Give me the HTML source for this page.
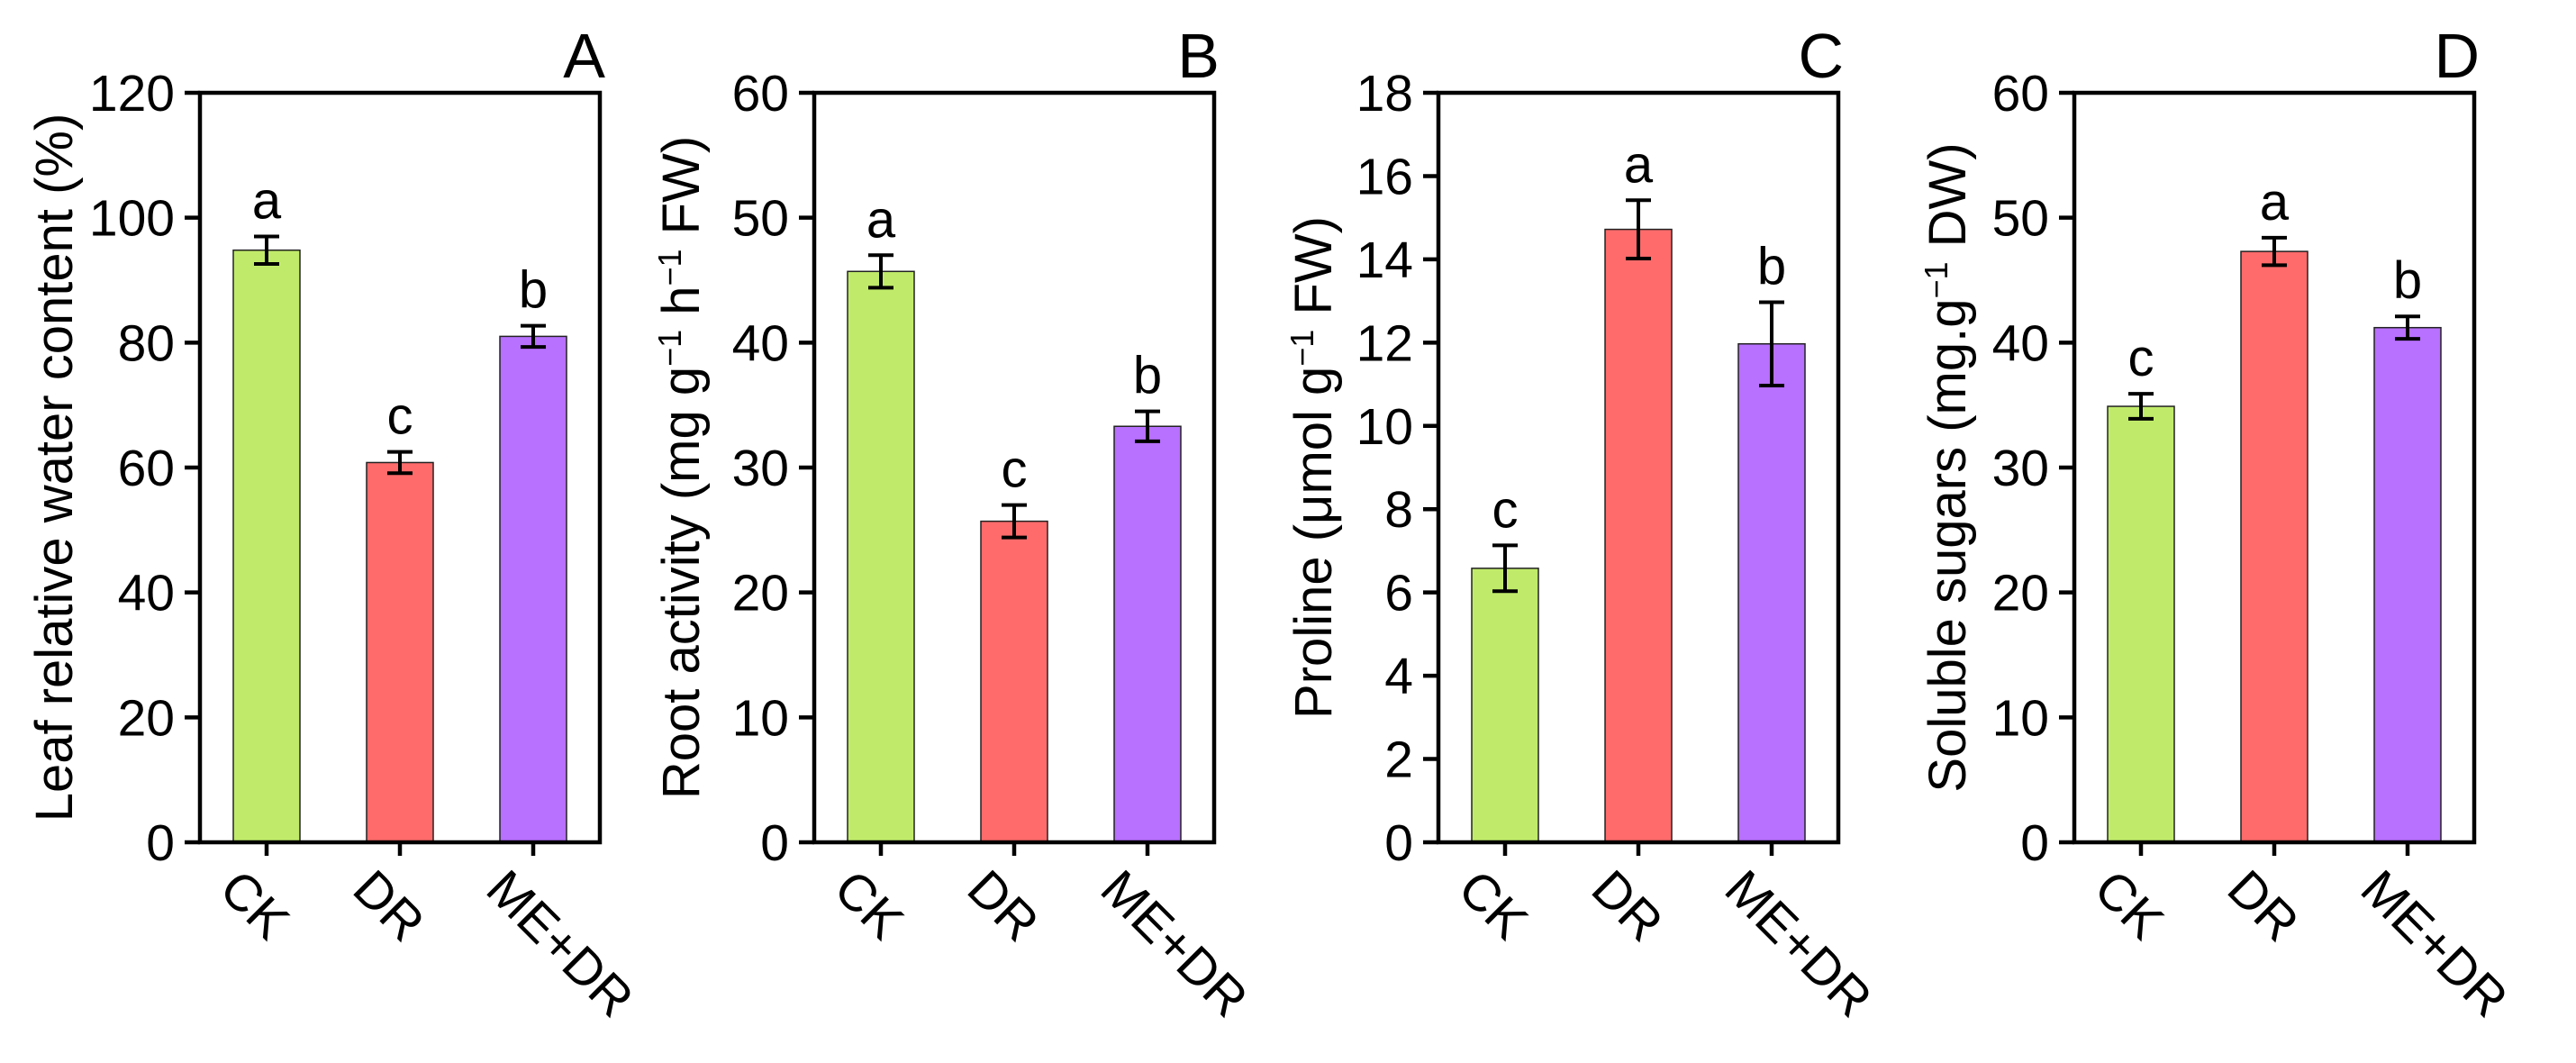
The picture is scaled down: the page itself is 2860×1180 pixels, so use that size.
<!DOCTYPE html>
<html><head><meta charset="utf-8"><style>
html,body{margin:0;padding:0;background:#fff;}
svg{display:block;font-family:"Liberation Sans",Arial,sans-serif;}
</style></head><body>
<svg id="fig" width="2860" height="1180" viewBox="0 0 2860 1180" xmlns="http://www.w3.org/2000/svg"></svg>
<script>
const categories = ["CK", "DR", "ME+DR"];
const colors = ["#C0EB6A", "#FF6B6B", "#B870FF"];
const lwcValues = [94.8, 60.8, 81.0];
const lwcErrors = [2.2, 1.7, 1.7];
const lwcLetters = ["a", "c", "b"];
const lwcTicks = [0, 20, 40, 60, 80, 100, 120];
const raValues = [45.7, 25.7, 33.3];
const raErrors = [1.3, 1.3, 1.2];
const raLetters = ["a", "c", "b"];
const raTicks = [0, 10, 20, 30, 40, 50, 60];
const proValues = [6.58, 14.72, 11.97];
const proErrors = [0.55, 0.7, 1.0];
const proLetters = ["c", "a", "b"];
const proTicks = [0, 2, 4, 6, 8, 10, 12, 14, 16, 18];
const ssValues = [34.9, 47.3, 41.2];
const ssErrors = [1.0, 1.1, 0.9];
const ssLetters = ["c", "a", "b"];
const ssTicks = [0, 10, 20, 30, 40, 50, 60];

const NS = "http://www.w3.org/2000/svg";
const svg = document.getElementById("fig");
function mk(tag, attrs, parent, text) {
  const e = document.createElementNS(NS, tag);
  for (const k in attrs) e.setAttribute(k, attrs[k]);
  if (text !== undefined) e.textContent = text;
  (parent || svg).appendChild(e);
  return e;
}

const panels = [
  {id:"a", letter:"A", left:222, max:120, values:lwcValues, errors:lwcErrors, letters:lwcLetters, ticks:lwcTicks, tx:60,
   title:[["Leaf relative water content (%)",0]]},
  {id:"b", letter:"B", left:904, max:60, values:raValues, errors:raErrors, letters:raLetters, ticks:raTicks, tx:756,
   title:[["Root activity (mg g",0],["−1",1],[" h",0],["−1",1],[" FW)",0]]},
  {id:"c", letter:"C", left:1597, max:18, values:proValues, errors:proErrors, letters:proLetters, ticks:proTicks, tx:1458,
   title:[["Proline (μmol g",0],["−1",1],[" FW)",0]]},
  {id:"d", letter:"D", left:2303, max:60, values:ssValues, errors:ssErrors, letters:ssLetters, ticks:ssTicks, tx:2162,
   title:[["Soluble sugars (mg.g",0],["−1",1],[" DW)",0]]}
];
const TOP = 103, BOTTOM = 935, W = 444;

panels.forEach(p => {
  const g = mk("g", {});
  
  
  const y = v => BOTTOM - (v / p.max) * (BOTTOM - TOP);
  const xc = i => p.left + W * (i + 0.5) / categories.length;
  const bw = W / 6;

  // bars
  p.values.forEach((v, i) => {
    const r = mk("rect", {x: xc(i) - bw/2, y: y(v), width: bw, height: BOTTOM - y(v), fill: colors[i], stroke: "#222", "stroke-width": 1.5}, g);
    
    
    const hi = y(v + p.errors[i]), lo = y(v - p.errors[i]);
    const eb = mk("path", {d: `M${xc(i)} ${hi}V${lo}M${xc(i)-14} ${hi}H${xc(i)+14}M${xc(i)-14} ${lo}H${xc(i)+14}`, stroke:"#000", "stroke-width":4, fill:"none"}, g);
    
    
    const t = mk("text", {x: xc(i), y: hi - 20, "text-anchor":"middle", "font-size":58}, g, p.letters[i]);
    
    
  });

  // frame
  const fr = mk("rect", {x: p.left, y: TOP, width: W, height: BOTTOM - TOP, fill:"none", stroke:"#000", "stroke-width":4.5}, g);
  
  

  // y ticks
  p.ticks.forEach(t => {
    mk("line", {x1: p.left - 17, x2: p.left, y1: y(t), y2: y(t), stroke:"#000", "stroke-width":4.5}, g);
    const tl = mk("text", {x: p.left - 28, y: y(t) + 20, "text-anchor":"end", "font-size":57}, g, String(t));
    
    
  });

  // x ticks + labels
  categories.forEach((c, i) => {
    mk("line", {x1: xc(i), x2: xc(i), y1: BOTTOM, y2: BOTTOM + 15, stroke:"#000", "stroke-width":4.5}, g);
    const ox = xc(i) - 55, oy = 990;
    const xl = mk("text", {x: ox, y: oy, "font-size":57, transform:`rotate(45 ${ox} ${oy})`}, g, c);
    
    
  });

  // y title
  const ty = (TOP + BOTTOM) / 2;
  const tt = mk("text", {x: p.tx, y: ty, "text-anchor":"middle", "font-size":58, transform:`rotate(-90 ${p.tx} ${ty})`, dy: 20}, g);
  
  
  p.title.forEach(([s, sup]) => {
    const ts = mk("tspan", sup ? {"baseline-shift":"super", "font-size":36} : {}, tt, s);
  });

  // panel letter
  const pl = mk("text", {x: p.left + W + 6, y: 86, "text-anchor":"end", "font-size":70}, g, p.letter);
  
  
});
</script>
</body></html>
